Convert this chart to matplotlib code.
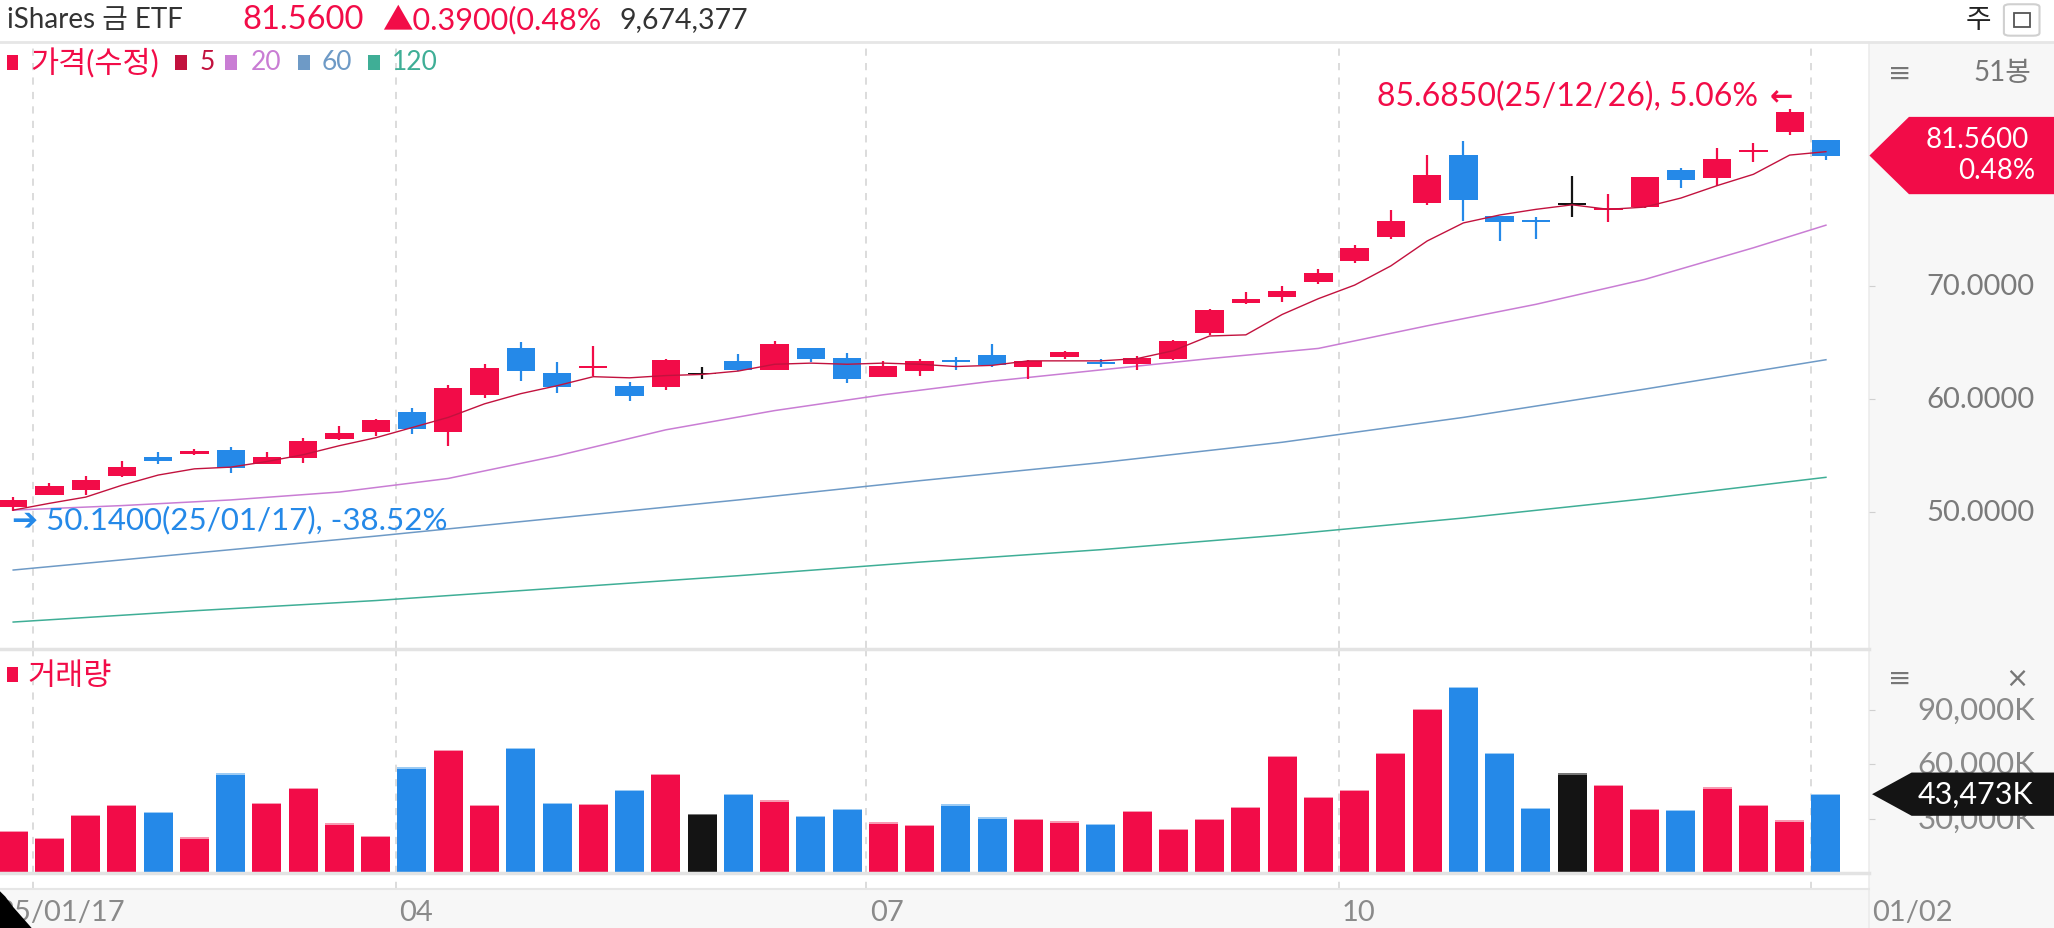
import matplotlib
matplotlib.use('Agg')
import matplotlib.pyplot as plt
from matplotlib.patches import Rectangle, Polygon, FancyBboxPatch
from matplotlib.lines import Line2D
from matplotlib.transforms import blended_transform_factory
import numpy as np

plt.rcParams['font.family'] = ['Lato', 'Noto Sans CJK KR', 'DejaVu Sans']

# ---- data (weekly, 25/01/17 .. 26/01/02, 51봉) ----
opens = [50.50, 51.58, 51.94, 53.18, 54.87, 55.19, 55.55, 54.30, 54.84, 56.50,
         57.12, 58.90, 57.12, 60.35, 64.57, 62.35, 62.80, 61.17, 61.05, 62.20,
         63.38, 62.61, 64.51, 63.63, 62.00, 62.50, 63.38, 63.92, 62.83, 63.74,
         63.25, 63.15, 63.57, 65.85, 68.48, 69.07, 70.37, 72.27, 74.37, 77.38,
         81.62, 76.17, 75.78, 77.20, 76.75, 77.00, 80.29, 79.55, 81.88, 83.60,
         82.90]
highs = [51.35, 52.59, 53.18, 54.51, 55.35, 55.64, 55.77, 55.35, 56.58, 57.65,
         58.30, 59.27, 61.30, 63.12, 65.10, 63.33, 64.72, 61.50, 63.60, 62.88,
         63.97, 65.16, 64.55, 64.13, 63.42, 63.60, 63.78, 64.87, 63.47, 64.30,
         63.57, 63.83, 65.25, 68.00, 69.46, 70.05, 71.56, 73.63, 76.70, 81.62,
         82.86, 76.17, 76.10, 79.76, 78.13, 79.66, 80.49, 82.27, 82.68, 85.685,
         82.95]
lows = [50.14, 51.50, 51.56, 53.13, 54.30, 55.10, 53.47, 54.24, 54.40, 56.44,
        56.76, 56.97, 55.90, 60.14, 61.62, 60.52, 62.09, 59.84, 60.80, 61.80,
        62.50, 62.56, 63.33, 61.47, 61.94, 62.09, 62.58, 62.88, 61.77, 63.57,
        62.83, 62.58, 63.50, 65.70, 68.42, 68.57, 70.22, 72.06, 74.22, 77.20,
        75.81, 74.00, 74.22, 76.14, 75.70, 76.94, 78.65, 78.86, 81.00, 83.40,
        81.20]
closes = [51.05, 52.33, 52.88, 53.98, 54.51, 55.46, 53.92, 54.93, 56.31, 57.00,
          58.19, 57.35, 61.02, 62.74, 62.50, 61.08, 62.85, 60.31, 63.47, 62.20,
          62.58, 64.87, 63.59, 61.77, 62.97, 63.38, 63.30, 63.03, 63.38, 64.16,
          63.15, 63.68, 65.20, 67.92, 68.86, 69.60, 71.17, 73.40, 75.81, 79.84,
          77.59, 75.67, 75.70, 77.20, 76.85, 79.66, 79.43, 81.27, 81.94, 85.40,
          81.56]
volume_k = [23060, 19310, 32060, 37500, 33560, 19690, 54940, 38810, 47060, 27380,
            20440, 58310, 67880, 37500, 69000, 38810, 38060, 45940, 54560, 32440,
            43500, 40120, 31690, 35250, 27940, 26440, 37880, 30750, 30000, 28500,
            27000, 34120, 24380, 30000, 36380, 64500, 42000, 45940, 66190, 90560,
            102750, 66190, 35810, 54940, 48750, 35440, 34690, 47250, 37690, 29060,
            43473]

ma5 = [50.2, 50.8, 51.35, 52.4, 53.3, 53.85, 54.0, 54.5, 55.1, 55.9,
       56.6, 57.5, 58.4, 59.6, 60.5, 61.2, 62.0, 61.9, 62.1, 62.2,
       62.5, 63.1, 63.2, 63.1, 63.2, 63.1, 62.9, 63.0, 63.4, 63.4,
       63.4, 63.6, 64.3, 65.6, 65.7, 67.5, 68.9, 70.1, 71.8, 74.0,
       75.6, 76.3, 76.8, 77.2, 76.8, 77.0, 77.8, 78.9, 79.9, 81.6,
       81.9]
ma20_idx = [0, 3, 6, 9, 12, 15, 18, 21, 24, 27, 30, 33, 36, 39, 42, 45, 48, 50]
ma20 = [50.2, 50.6, 51.1, 51.8, 53.0, 55.0, 57.3, 59.0, 60.4, 61.6,
        62.6, 63.6, 64.5, 66.5, 68.4, 70.6, 73.4, 75.4]
ma_long_idx = [0, 5, 10, 15, 20, 25, 30, 35, 40, 45, 50]
ma60 = [44.9, 46.4, 47.9, 49.5, 51.1, 52.8, 54.4, 56.2, 58.4, 60.9, 63.5]
ma120 = [40.3, 41.3, 42.2, 43.3, 44.4, 45.6, 46.7, 48.0, 49.5, 51.2, 53.1]

price_ticks = [50, 60, 70]
vol_ticks = [30000, 60000, 90000]
month_lines = [0.55, 10.55, 23.53, 36.58, 49.6]
month_label_pos = [-0.44, 10.65, 23.64, 36.65, 51.27]
month_labels = ['25/01/17', '04', '07', '10', '01/02']

RED = '#f20c48'
BLUE = '#2589e8'
BLACK = '#141414'
RED_TOP = '#f79ab2'
BLUE_TOP = '#9ccbf4'
BLACK_TOP = '#777777'
C_MA5 = '#c2123e'
C_MA20 = '#c97dd4'
C_MA60 = '#6e9ac6'
C_MA120 = '#3fae96'
GRID = '#d9d9d9'

W, H = 1558.0, 709.0
def F(x, y):
    return x / W, 1 - y / H

fig = plt.figure(figsize=(20.54, 9.29), dpi=100)
fig.patch.set_facecolor('white')

# right gray panel and bottom label strip (behind the axes)
fig.patches.append(Rectangle(F(1418, 709), 140 / W, (709 - 33) / H, transform=fig.transFigure,
                             facecolor='#f7f7f7', edgecolor='none', zorder=-2))
fig.patches.append(Rectangle(F(0, 709), 1418 / W, 30 / H, transform=fig.transFigure,
                             facecolor='#f7f7f7', edgecolor='none', zorder=-2))

xlim = (-0.364, 51.2)
ax = fig.add_axes([0, F(0, 495)[1], 1418 / W, (495 - 33) / H])
axv = fig.add_axes([0, F(0, 667)[1], 1418 / W, (667 - 497) / H])
axx = fig.add_axes([0, F(0, 679)[1], 1418 / W, (679 - 667) / H])
for a in (ax, axv, axx):
    a.set_facecolor('none')
    a.set_xlim(*xlim)
    for s in a.spines.values():
        s.set_visible(False)
    a.set_xticks([])
    for m in month_lines:
        a.axvline(m, color=GRID, lw=1.3, ls=(0, (4, 4)), zorder=0)

ax.set_ylim(38.04, 91.58)
axv.set_ylim(0, 122900)
axx.set_yticks([])

idx = np.arange(len(closes))
cols = [RED if c > o else (BLUE if c < o else BLACK) for o, c in zip(opens, closes)]
tops = [RED_TOP if c > o else (BLUE_TOP if c < o else BLACK_TOP) for o, c in zip(opens, closes)]

# moving averages
ax.plot(ma_long_idx, ma120, color=C_MA120, lw=1.1, zorder=2)
ax.plot(ma_long_idx, ma60, color=C_MA60, lw=1.1, zorder=2)
ax.plot(ma20_idx, ma20, color=C_MA20, lw=1.1, zorder=2)
ax.plot(idx, ma5, color=C_MA5, lw=1.0, zorder=4)

# candles
ax.vlines(idx, lows, highs, colors=cols, lw=1.6, zorder=3)
bottoms = [min(o, c) for o, c in zip(opens, closes)]
heights = [max(abs(c - o), 0.17) for o, c in zip(opens, closes)]
ax.bar(idx, heights, bottom=bottoms, width=0.78, color=cols, zorder=3)

# volume (thin lighter cap on each bar)
axv.bar(idx, volume_k, width=0.8, color=cols, zorder=3)
axv.bar(idx, [700] * len(idx), bottom=[v - 700 for v in volume_k], width=0.8, color=tops, zorder=3)

# y tick marks (labels drawn in the gray panel)
for a, ticks in ((ax, price_ticks), (axv, vol_ticks)):
    a.yaxis.tick_right()
    a.set_yticks(ticks)
    a.tick_params(axis='y', length=4, color='#d0d0d0', labelright=False)

tp = blended_transform_factory(fig.transFigure, ax.transData)
tv = blended_transform_factory(fig.transFigure, axv.transData)
for t in price_ticks:
    ax.text(F(1543, 0)[0], t, f'{t:.4f}', transform=tp, ha='right', va='center',
            fontsize=21, color='#7a7a7a', clip_on=False)
for t in vol_ticks:
    axv.text(F(1544, 0)[0], t, f'{t:,}K', transform=tv, ha='right', va='center',
             fontsize=22.5, color='#8a8a8a', clip_on=False)

# last price marker
last = closes[-1]
dy = 29.5 / 8.63
ax.add_patch(Polygon([(F(1418, 0)[0], last), (F(1448, 0)[0], last + dy), (1.0, last + dy),
                      (1.0, last - dy), (F(1448, 0)[0], last - dy)], closed=True,
                     transform=tp, facecolor=RED, edgecolor='none', clip_on=False, zorder=5))
ax.text(F(1539, 0)[0], last + 1.42, f'{last:.4f}', transform=tp, ha='right', va='center',
        fontsize=20, color='white', clip_on=False, zorder=6)
ax.text(F(1544, 0)[0], last - 1.24, '0.48%', transform=tp, ha='right', va='center',
        fontsize=20, color='white', clip_on=False, zorder=6)

# last volume marker
lv = volume_k[-1]
dv = 16.5 / 41.5 * 30000
axv.add_patch(Polygon([(F(1420, 0)[0], lv), (F(1450, 0)[0], lv + dv), (1.0, lv + dv),
                       (1.0, lv - dv), (F(1450, 0)[0], lv - dv)], closed=True,
                      transform=tv, facecolor=BLACK, edgecolor='none', clip_on=False, zorder=5))
axv.text(F(1542, 0)[0], lv, f'{lv:,}K', transform=tv, ha='right', va='center',
         fontsize=22, color='white', clip_on=False, zorder=6)

# high / low annotations
hi_i = int(np.argmax(highs))
lo_i = int(np.argmin(lows))
ax.annotate(f'{highs[hi_i]:.4f}(25/12/26), {highs[hi_i] / last * 100 - 100:.2f}%',
            xy=(hi_i, highs[hi_i]), xytext=(-23, 9), textcoords='offset points',
            ha='right', va='center', fontsize=23, color=RED)
ax.annotate('←', xy=(hi_i, highs[hi_i]), xytext=(-6, 9), textcoords='offset points',
            ha='center', va='center', fontsize=20, color=RED, fontweight='bold',
            family=['DejaVu Sans'])
ax.annotate(f'➔ {lows[lo_i]:.4f}(25/01/17), {lows[lo_i] / last * 100 - 100:.2f}%',
            xy=(lo_i, lows[lo_i]), xytext=(-1, -6), textcoords='offset points',
            ha='left', va='center', fontsize=22.5, color=BLUE,
            family=['Lato', 'DejaVu Sans'])

# month labels
tx = blended_transform_factory(axx.transData, fig.transFigure)
for p, lab in zip(month_label_pos, month_labels):
    axx.text(p, F(0, 697)[1], lab, transform=tx, ha='left', va='center',
             fontsize=21, color='#8a8a8a', clip_on=False)

# separators
for (x0, x1, y, c, lw) in [(0, 1558, 33, '#e6e6e6', 2.0), (0, 1418, 496, '#e3e3e3', 2.5),
                           (0, 1418, 667, '#e3e3e3', 2.5), (0, 1418, 679, '#e6e6e6', 1.5)]:
    fig.lines.append(Line2D([x0 / W, x1 / W], [F(0, y)[1]] * 2, transform=fig.transFigure,
                            color=c, lw=lw, zorder=1))
fig.lines.append(Line2D([1418 / W] * 2, [F(0, 709)[1], F(0, 33)[1]], transform=fig.transFigure,
                        color='#ececec', lw=1.2, zorder=-1))

# header
fig.text(*F(5, 15), 'iShares 금 ETF', fontsize=20, color='#333333', va='center')
fig.text(*F(184, 15), f'{last:.4f}', fontsize=23.5, color=RED, va='center')
fig.text(*F(290, 15), '▲0.3900(0.48%', fontsize=22, color=RED, va='center')
fig.text(*F(470, 15), '9,674,377', fontsize=20.5, color='#333333', va='center')
fig.text(*F(1501, 15), '주', fontsize=20, color='#222222', va='center', ha='center')
fig.patches.append(FancyBboxPatch(F(1520, 28), 27 / W, 24 / H, boxstyle='round,pad=0,rounding_size=0.003',
                                  transform=fig.transFigure, facecolor='white', edgecolor='#d0d0d0', lw=1.5))
fig.patches.append(Rectangle(F(1528, 21), 12 / W, 10 / H, transform=fig.transFigure,
                             facecolor='none', edgecolor='#555555', lw=1.3))

# legends
legend_items = [(5, 23, '가격(수정)', RED, 22), (133, 151, '5', C_MA5, 19), (171, 190, '20', C_MA20, 19),
                (226, 244, '60', C_MA60, 19), (279, 297, '120', C_MA120, 19)]
for sx, tx0, lab, c, fs in legend_items:
    fig.patches.append(Rectangle(F(sx, 54), 9 / W, 11 / H, transform=fig.transFigure,
                                 facecolor=c, edgecolor='none'))
    fig.text(*F(tx0, 48), lab, fontsize=fs, color=c, va='center')
fig.patches.append(Rectangle(F(5, 521), 9 / W, 11 / H, transform=fig.transFigure,
                             facecolor=RED, edgecolor='none'))
fig.text(*F(21, 516), '거래량', fontsize=22, color=RED, va='center')

# right panel icons
fig.text(*F(1441, 56), '≡', fontsize=20, color='#777777', va='center', ha='center',
         family=['DejaVu Sans'])
fig.text(*F(1541, 56), f'{len(closes)}봉', fontsize=20, color='#777777', va='center', ha='right')
fig.text(*F(1441, 518), '≡', fontsize=20, color='#777777', va='center', ha='center',
         family=['DejaVu Sans'])
fig.text(*F(1530, 518), '×', fontsize=20, color='#777777', va='center', ha='center',
         family=['DejaVu Sans'])

# rounded screen corner
corner = [(0, 681), (4, 685), (10, 693), (17, 701), (24, 709), (0, 709)]
fig.patches.append(Polygon([F(x, y) for x, y in corner], closed=True, transform=fig.transFigure,
                           facecolor='black', edgecolor='none', zorder=10))

fig.savefig('out.png', dpi=100)
